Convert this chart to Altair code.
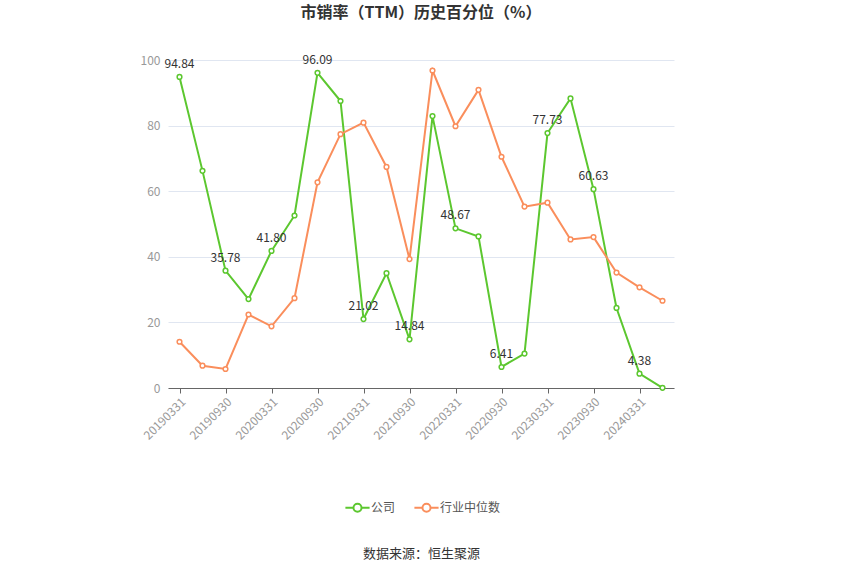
import altair as alt
import pandas as pd

dates = ["20190331", "20190630", "20190930", "20191231", "20200331", "20200630",
         "20200930", "20201231", "20210331", "20210630", "20210930", "20211231",
         "20220331", "20220630", "20220930", "20221231", "20230331", "20230630",
         "20230930", "20231231", "20240331", "20240630"]
company = [94.84, 66.2, 35.78, 27.1, 41.80, 52.6, 96.09, 87.5, 21.02, 35.0, 14.84, 82.9,
           48.67, 46.2, 6.41, 10.5, 77.73, 88.3, 60.63, 24.4, 4.38, 0.05]
industry = [14.1, 6.8, 5.8, 22.4, 18.8, 27.4, 62.7, 77.4, 80.9, 67.4, 39.3, 96.8,
            79.8, 90.9, 70.5, 55.3, 56.5, 45.3, 46.0, 35.2, 30.7, 26.6]
labeled_idx = [0, 2, 4, 6, 8, 10, 12, 14, 16, 18, 20]
series_names = ["公司", "行业中位数"]
colors = ["#5cc72f", "#fa8e5c"]
tick_dates = dates[::2]

rows = []
for i, d in enumerate(dates):
    rows.append({"date": d, "series": series_names[0], "value": company[i],
                 "label": f"{company[i]:.2f}" if i in labeled_idx else ""})
    rows.append({"date": d, "series": series_names[1], "value": industry[i], "label": ""})
df = pd.DataFrame(rows)

FONT = "Noto Sans CJK SC"

x = alt.X("date:O", sort=dates,
          scale=alt.Scale(type="point", padding=0.5),
          axis=alt.Axis(values=tick_dates, labelAngle=-45, labelColor="#999999",
                        labelFontSize=12, labelFont=FONT, tickColor="#666666",
                        domainColor="#666666", tickSize=5, labelPadding=3,
                        title="数据来源：恒生聚源", titleColor="#333333", titleFont=FONT,
                        titleFontSize=13, titleFontWeight="normal", titleY=165,
                        titleBaseline="middle", grid=False))
y = alt.Y("value:Q", scale=alt.Scale(domain=[0, 100]),
          axis=alt.Axis(values=[0, 20, 40, 60, 80, 100], labelColor="#999999",
                        labelFontSize=12, labelFont=FONT, domain=False, ticks=False,
                        labelPadding=8, gridColor="#e0e6f1", title=None))
color = alt.Color("series:N", scale=alt.Scale(domain=series_names, range=colors),
                  legend=alt.Legend(title=None, orient="none", direction="horizontal",
                                    legendX=180, legendY=438,
                                    symbolType="M-1.5,0L-0.5,0M0.5,0L1.5,0M0.5,0A0.5,0.5,0,1,1,-0.5,0A0.5,0.5,0,1,1,0.5,0",
                                    symbolSize=260, symbolStrokeWidth=2,
                                    symbolFillColor="white", labelFont=FONT,
                                    labelFontSize=12, labelColor="#555555",
                                    columnPadding=14, symbolOffset=0))

base = alt.Chart(df)
lines = base.mark_line(strokeWidth=2).encode(x=x, y=y, color=color)
points = base.mark_point(filled=True, fill="white", size=22, strokeWidth=1.5, opacity=1).encode(
    x=x, y=y, stroke=alt.Stroke("series:N", scale=alt.Scale(domain=series_names, range=colors), legend=None))
labels = base.mark_text(dy=-13, fontSize=12, font=FONT, color="#333333").encode(
    x=x, y=y, text="label:N")

chart = alt.layer(lines, points, labels).properties(
    width=506, height=328,
    title=alt.TitleParams("市销率（TTM）历史百分位（%）", font=FONT, fontSize=16,
                          fontWeight="bold", color="#333333", anchor="middle", offset=30),
    autosize=alt.AutoSizeParams(type="none"),
    padding={"left": 168, "top": 60, "right": 176, "bottom": 187},
).configure_view(stroke=None)

chart.save("out.html", embed_options={"renderer": "svg", "actions": False})
